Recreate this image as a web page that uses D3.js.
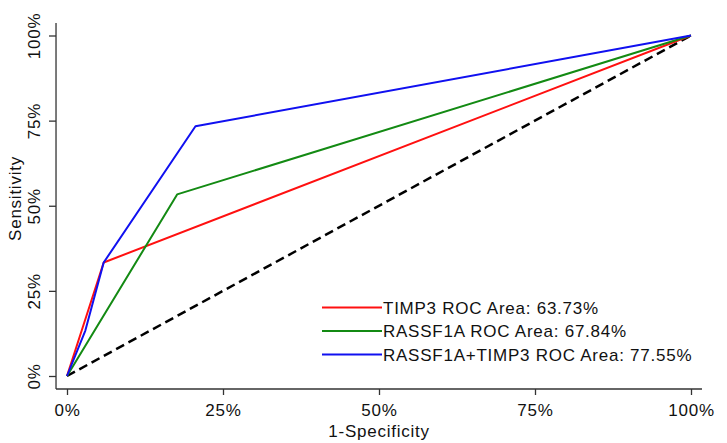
<!DOCTYPE html>
<html>
<head>
<meta charset="utf-8">
<script src="https://cdn.jsdelivr.net/npm/d3@7"></script>
<style>
  html, body { margin: 0; padding: 0; background: #fff; }
  svg text { font-family: "Liberation Sans", Arial, sans-serif; font-size: 17px; letter-spacing: 0.75px; fill: #111; }
</style>
</head>
<body>
<svg id="chart" width="727" height="443"></svg>
<script>
// ---- data ----
const tickValues = [0, 0.25, 0.5, 0.75, 1];
const tickLabels = ["0%", "25%", "50%", "75%", "100%"];

const timp3Fpr = [0, 0.0588, 1];
const timp3Tpr = [0, 0.3333, 1];

const rassf1aFpr = [0, 0.1765, 1];
const rassf1aTpr = [0, 0.5333, 1];

const comboFpr = [0, 0.0294, 0.0588, 0.2059, 1];
const comboTpr = [0, 0.1333, 0.3333, 0.7333, 1];

const refFpr = [0, 1];
const refTpr = [0, 1];

const seriesNames = ["TIMP3 ROC Area: 63.73%", "RASSF1A ROC Area: 67.84%", "RASSF1A+TIMP3 ROC Area: 77.55%"];
const seriesColors = ["#ff1010", "#138a13", "#1010f0"];

// ---- chart ----
const svg = d3.select("#chart");
const x = d3.scaleLinear().domain([0, 1]).range([67, 691]);
const y = d3.scaleLinear().domain([0, 1]).range([376, 35.5]);

const axisColor = "#333";

// axis lines (plot region extents)
svg.append("line").attr("x1", x(-0.0176)).attr("x2", x(1.0176)).attr("y1", y(-0.0382)).attr("y2", y(-0.0382))
  .attr("stroke", axisColor).attr("stroke-width", 1.3);
svg.append("line").attr("x1", x(-0.0176)).attr("x2", x(-0.0176)).attr("y1", y(-0.0382)).attr("y2", y(1.0367))
  .attr("stroke", axisColor).attr("stroke-width", 1.3);

// x axis
const gx = svg.append("g").attr("transform", `translate(0,${y(-0.0382)})`)
  .call(d3.axisBottom(x).tickValues(tickValues).tickFormat((d, i) => tickLabels[i]).tickSize(6).tickPadding(9));
gx.select(".domain").remove();
gx.selectAll(".tick line").attr("stroke", axisColor).attr("stroke-width", 1.3);
gx.selectAll(".tick text").attr("fill", "#111");

// y axis
const gy = svg.append("g").attr("transform", `translate(${x(-0.0176)},0)`)
  .call(d3.axisLeft(y).tickValues(tickValues).tickFormat((d, i) => tickLabels[i]).tickSize(7));
gy.select(".domain").remove();
gy.selectAll(".tick line").attr("stroke", axisColor).attr("stroke-width", 1.3);
gy.selectAll(".tick text")
  .attr("fill", "#111")
  .attr("x", 0).attr("dy", 0).attr("text-anchor", "middle")
  .attr("transform", "translate(-16.5,0) rotate(-90)");
svg.selectAll("g").attr("font-size", null).attr("font-family", null);

// axis titles
svg.append("text").attr("text-anchor", "middle")
  .attr("transform", "translate(21,198.5) rotate(-90)").text("Sensitivity");
svg.append("text").attr("text-anchor", "middle").attr("x", x(0.5)).attr("y", 436.5).text("1-Specificity");

// lines
const line = d3.line().x(d => x(d[0])).y(d => y(d[1]));
svg.append("path").datum(d3.zip(refFpr, refTpr)).attr("d", line)
  .attr("fill", "none").attr("stroke", "#000").attr("stroke-width", 2.5).attr("stroke-dasharray", "9,5");

const series = [
  d3.zip(timp3Fpr, timp3Tpr),
  d3.zip(rassf1aFpr, rassf1aTpr),
  d3.zip(comboFpr, comboTpr)
];
series.forEach((s, i) => {
  svg.append("path").datum(s).attr("d", line)
    .attr("fill", "none").attr("stroke", seriesColors[i]).attr("stroke-width", 2).attr("stroke-linejoin", "round");
});

// legend
const legend = svg.append("g").attr("transform", "translate(322,307.5)");
seriesNames.forEach((name, i) => {
  const g = legend.append("g").attr("transform", `translate(0,${i * 23.5})`);
  g.append("line").attr("x1", 0).attr("x2", 60).attr("y1", 0).attr("y2", 0)
    .attr("stroke", seriesColors[i]).attr("stroke-width", 2);
  g.append("text").attr("x", 61).attr("y", 6).text(name);
});
</script>
</body>
</html>
